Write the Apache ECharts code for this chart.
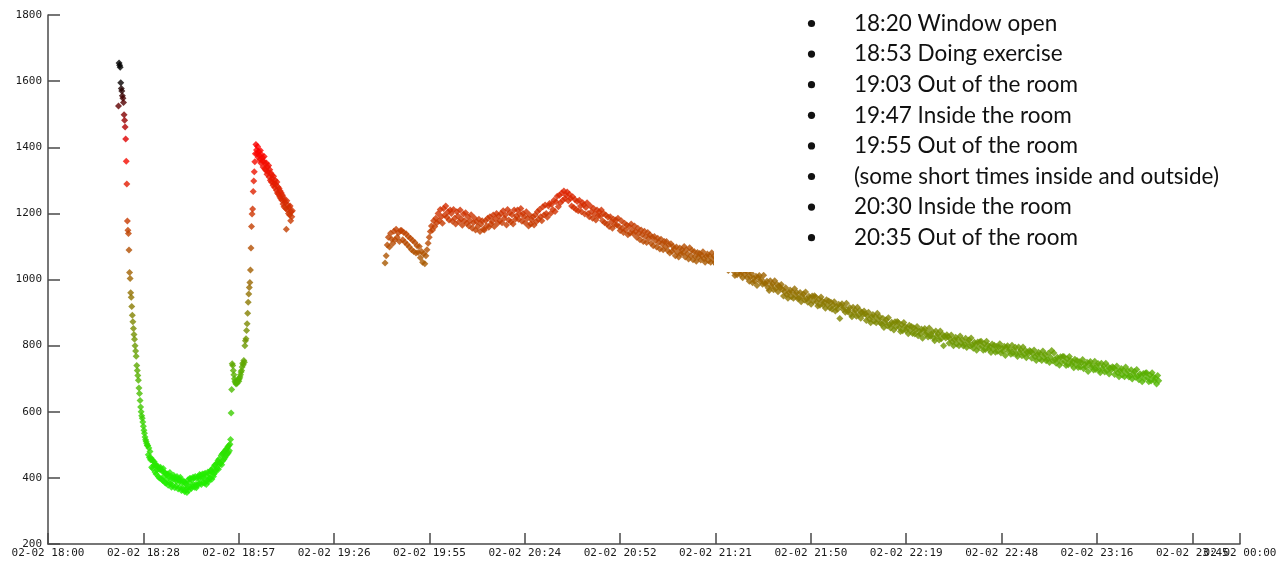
<!DOCTYPE html>
<html>
<head>
<meta charset="utf-8">
<title>CO2 readings 02-02</title>
<script src="https://cdn.jsdelivr.net/npm/echarts@6/dist/echarts.min.js"></script>
<style>
  html, body { margin: 0; padding: 0; background: #fff; }
  #chart { width: 1286px; height: 565px; }
</style>
</head>
<body>
<div id="chart"></div>
<script>
// ---- data -------------------------------------------------------------
// Logger readings (ppm). Each run is sampled at a fixed step from its start time.
const run1Start = '18:21:18';
const run1StepSec = 10;
const run1Values = [
  // window opened: fast drop
  1525,1655,1648,1642,1595,1578,1570,1556,1548,1535,
  1498,1482,1461,1425,1358,1289,1177,1149,1139,1089,
  1021,1003,960,946,918,892,872,852,834,819,
  800,784,768,740,725,710,695,672,655,634,
  614,600,588,580,569,556,544,535,524,515,
  510,504,498,
  // fresh air minimum
  498,470,490,462,480,455, 460,432,455,428,450,438,
  448,418,440,412,436,424, 436,404,428,400,425,432,
  426,396,420,392,428,404, 418,386,414,384,410,396,
  412,378,404,386,416,382, 406,372,400,378,396,408,
  402,370,396,376,390,404, 398,366,394,372,388,402,
  394,362,386,370,364,390, 388,358,384,364,380,356,
  370,394,362,386,398,372, 398,368,394,374,402,380,
  400,372,404,380,370,398, 378,404,382,398,410,384,
  408,380,400,412,386,402, 412,384,414,390,380,406,
  392,418,388,412,398,420, 400,424,396,418,430,404,
  412,438,416,440,424,444, 428,452,426,456,440,446,
  444,468,440,472,452,476, 456,480,462,484,468,488,
  472,494,476,498,482,502,
  // exercise
  516,596,667,745,740,725,712,700,692,688,
  684,690,686,694,698,692,700,705,712,720,
  725,735,747,742,755,750,
  800,815,821,846,866,898,931,956,976,991,
  1029,1095,1160,1198,1213,1266,1298,1326,1356,1380,
  1408,1392,1380,1402,1370,1388, 1376,1362,1390,1352,1378,1360,
  1368,1340,1358,1372,1335,1350, 1330,1352,1318,1340,1326,1345,
  1310,1332,1300,1322,1295,1315, 1305,1285,1312,1290,1278,1300,
  1288,1270,1295,1262,1280,1258, 1275,1250,1268,1245,1262,1240,
  1255,1228,1248,1220,1240,1232, 1215,1152,1238,1210,1225,1200,
  1218,1195,1222,1178,1205,1190,1208
];

const run2Start = '19:41:48';
const run2StepSec = 20;
const run2Values = [
  1050,1072,1104,1128,1098,1140,1122,1109,1146,1120,1152,1128,1141,1115,1148,
  1148,1120,1142,1113,1138,1106,1130,1098,1125,1090,1118,1085,1112,1080,1102,
  1082,1100,1066,1085,1052,1078,1048,1072,1090,1110,1128,1145,1162,1150,1178,
  1160,1185,1172,1200,1178,1212,1190,1170,1215,1195,1222,1188,1205,1180,1210,
  1200,1176,1212,1185,1168,1205,1192,1175,1210,1183,1164,1198,1178,1202,1170,
  1190,1162,1178,1196,1155,1172,1186,1150,1175,1160,1182,1145,1168,1178,1152,
  1150,1178,1162,1185,1158,1190,1168,1176,1195,1160,1184,1200,1170,1192,1178,
  1200,1172,1208,1185,1195,1165,1212,1180,1202,1175,1196,1168,1210,1182,1192,
  1210,1182,1198,1215,1176,1200,1190,1172,1205,1185,1162,1195,1168,1180,1190,
  1165,1195,1175,1205,1182,1212,1190,1178,1220,1195,1225,1200,1188,1222,1230,
  1200,1228,1212,1240,1206,1235,1252,1220,1255,1232,1262,1240,1268,1245,1255,
  1265,1238,1258,1246,1222,1250,1218,1242,1212,1236,1208,1240,1222,1205,1232,
  1225,1198,1218,1232,1200,1190,1222,1205,1185,1215,1198,1180,1210,1192,1205,
  1192,1210,1178,1200,1172,1195,1168,1188,1160,1190,1175,1155,1182,1166,1180,
  1165,1185,1160,1148,1178,1155,1142,1170,1150,1165,1135,1160,1140,1168,1150,
  1138,1162,1145,1128,1155,1140,1120,1150,1135,1115,1146,1130,1112,1142,1125,
  1135,1110,1128,1102,1130,1118,1098,1125,1112,1092,1122,1108,1090,1115,1100,
  1115,1088,1105,1080,1108,1085,1100,1092,1072,1098,1082,1068,1095,1078,1090,
  1080,1100,1068,1090,1078,1062,1096,1072,1088,1060,1085,1070,1055,1082,1068,
  1079,1059,1073,1084,1063,1052,1070,1077,1057,1071,1052,1081,1061,1070,1051,
  1045,1063,1035,1051,1058,1040,1064,1043,1033,1051,1045,1027,1052,1036,1053,
  1039,1024,1012,1032,1014,1039,1027,1015,1023,1005,1031,1015,1027,1006,1023,
  995,1008,1018,990,1004,995,1010,982,1006,1012,994,1000,986,1013,988,
  987,995,975,967,996,980,987,969,996,973,986,963,981,975,985,
  970,950,964,975,954,943,961,968,948,962,943,972,952,961,942,
  943,961,933,949,956,938,962,941,931,949,943,925,950,934,951,
  947,932,920,940,922,947,935,923,931,913,939,923,935,914,931,
  910,923,933,905,919,910,925,882,921,927,909,915,901,928,903,
  907,915,895,887,916,900,907,889,916,893,906,883,901,895,905,
  896,876,890,901,880,869,887,894,874,888,869,898,878,887,868,
  865,883,855,871,878,860,884,863,853,871,865,847,872,856,873,
  870,855,843,863,845,870,858,846,854,836,862,846,858,837,854,
  835,848,858,830,844,835,850,822,846,852,834,840,826,853,828,
  835,843,823,815,844,828,835,817,844,821,834,800,829,823,833,
  827,807,821,832,811,800,818,825,805,819,800,829,809,818,799,
  804,822,794,810,817,799,823,802,792,810,804,786,811,795,812,
  813,798,786,806,788,813,801,789,797,779,805,789,801,780,797,
  783,796,806,778,792,783,798,770,794,800,782,788,774,801,776,
  787,795,775,767,796,780,787,769,796,773,786,763,781,775,785,
  782,762,776,787,766,755,773,780,760,774,755,784,764,773,754,
  759,777,749,765,785,754,778,757,747,765,759,741,766,750,767,
  767,752,740,760,742,767,755,743,751,733,759,743,755,734,751,
  735,748,758,730,744,735,750,722,746,752,734,740,726,753,728,
  738,746,726,718,747,731,738,720,747,724,737,714,732,726,736,
  733,713,727,738,717,706,724,731,711,725,706,735,715,724,705,
  709,727,699,715,722,704,728,707,697,715,709,691,716,700,717,
  718,703,691,711,693,718,706,694,702,684,710,694
];

// x axis: minutes after 18:00, 0 .. 360
const xTickLabels = [
  '02-02 18:00','02-02 18:28','02-02 18:57','02-02 19:26','02-02 19:55',
  '02-02 20:24','02-02 20:52','02-02 21:21','02-02 21:50','02-02 22:19',
  '02-02 22:48','02-02 23:16','02-02 23:45','02-02 00:00'
];
const yTicks = [200, 400, 600, 800, 1000, 1200, 1400, 1600, 1800];

// event notes
const notes = [
  '18:20 Window open',
  '18:53 Doing exercise',
  '19:03 Out of the room',
  '19:47 Inside the room',
  '19:55 Out of the room',
  '(some short times inside and outside)',
  '20:30 Inside the room',
  '20:35 Out of the room'
];

// colour ramp over ppm (200 .. 1800 in 200 steps)
const rampColors = ['#22ee00','#22ee00','#3dcc00','#6b9900','#9c6600','#cd3300','#ff0000','#000000','#000000'];

// ---- helpers ----------------------------------------------------------
function minutesAfter18(hms) {
  const p = hms.split(':').map(Number);
  return (p[0] - 18) * 60 + p[1] + (p[2] || 0) / 60;
}
function toPoints(start, stepSec, values) {
  const t0 = minutesAfter18(start);
  return values.map((v, i) => [t0 + i * stepSec / 60, v]);
}

const chart = echarts.init(document.getElementById('chart'), null, { renderer: 'canvas' });

const axisColor = '#4a4a4a';
const labelFont = { fontFamily: 'DejaVu Sans Mono', fontSize: 11, color: '#1a1a1a' };
const lastTick = xTickLabels.length - 1;

// white notes panel laid over the upper right of the plot
const noteGraphics = [{
  type: 'rect',
  left: 714, top: 0,
  shape: { width: 572, height: 272 },
  style: { fill: '#ffffff' },
  z: 100
}];
notes.forEach((txt, i) => {
  const cy = 23.5 + i * 30.6;
  noteGraphics.push({
    type: 'circle',
    shape: { cx: 811.5, cy: cy, r: 3.6 },
    style: { fill: '#111' },
    z: 101
  });
  noteGraphics.push({
    type: 'text',
    x: 854, y: cy,
    style: {
      text: txt,
      fill: '#111',
      font: '22.5px Lato',
      textVerticalAlign: 'middle',
      textAlign: 'left'
    },
    z: 101
  });
});

const scatterStyle = {
  type: 'scatter',
  symbol: 'diamond',
  symbolSize: 7,
  animation: false,
  silent: true
};

const xScale = { type: 'value', min: 0, max: 360, interval: 28.8, gridIndex: 0, position: 'bottom' };

chart.setOption({
  backgroundColor: '#ffffff',
  animation: false,
  grid: { left: 48, right: 46, top: 15, bottom: 21, outerBoundsMode: 'none' },
  xAxis: [
    Object.assign({}, xScale, {
      axisLine: { show: true, lineStyle: { color: axisColor, width: 1.5 } },
      axisTick: { show: true, inside: true, length: 11, lineStyle: { color: axisColor, width: 1.5 } },
      splitLine: { show: false },
      axisLabel: Object.assign({
        margin: 4,
        showMinLabel: true, showMaxLabel: true, hideOverlap: false,
        formatter: (v, idx) => (idx < lastTick ? xTickLabels[idx] : '')
      }, labelFont)
    }),
    // end-of-axis label, drawn on its own so it can overlap its neighbour
    Object.assign({}, xScale, {
      axisLine: { show: false },
      axisTick: { show: false },
      splitLine: { show: false },
      axisLabel: Object.assign({
        margin: 4,
        showMinLabel: false, showMaxLabel: true, hideOverlap: false,
        formatter: (v, idx) => (idx === lastTick ? xTickLabels[idx] : '')
      }, labelFont)
    })
  ],
  yAxis: {
    type: 'value',
    min: yTicks[0], max: yTicks[yTicks.length - 1], interval: 200,
    axisLine: { show: true, lineStyle: { color: axisColor, width: 1.5 } },
    axisTick: { show: true, inside: true, length: 12, lineStyle: { color: axisColor, width: 1.5 } },
    splitLine: { show: false },
    axisLabel: Object.assign({
      margin: 6, showMinLabel: true, showMaxLabel: true,
      formatter: v => String(v)
    }, labelFont)
  },
  visualMap: {
    show: false,
    type: 'continuous',
    min: 200, max: 1800,
    dimension: 1,
    seriesIndex: [0, 1],
    inRange: { color: rampColors }
  },
  series: [
    Object.assign({ name: 'run1', xAxisIndex: 0, data: toPoints(run1Start, run1StepSec, run1Values) }, scatterStyle),
    Object.assign({ name: 'run2', xAxisIndex: 0, data: toPoints(run2Start, run2StepSec, run2Values) }, scatterStyle)
  ],
  graphic: noteGraphics
});
</script>
</body>
</html>
